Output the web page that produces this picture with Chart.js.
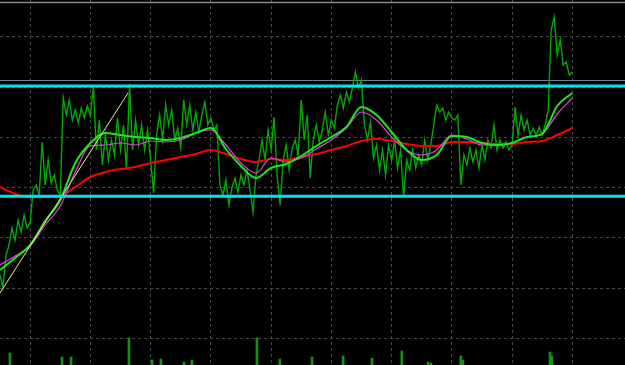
<!DOCTYPE html>
<html><head><meta charset="utf-8">
<script src="https://cdn.jsdelivr.net/npm/chart.js@4.4.1/dist/chart.umd.min.js"></script>
<style>html,body{margin:0;padding:0;background:#000;overflow:hidden}#wrap{width:625px;height:365px;position:relative}</style>
</head><body><div id="wrap"><canvas id="c"></canvas></div>
<script>
// price closes, one per bar (points)
const price = [
 1063,1051,1083,1093,1110,1098,1118,1106,1123,1110,
 1116,1148,1153,1143,1196,1153,1178,1155,1163,1148,
 1143,1240,1223,1238,1218,1228,1215,1230,1220,1232,
 1222,1251,1188,1218,1173,1203,1178,1198,1183,1220,
 1188,1213,1168,1254,1188,1218,1193,1213,1188,1208,
 1178,1145,1203,1223,1198,1233,1213,1228,1198,1210,
 1190,1238,1213,1233,1208,1226,1206,1223,1236,1213,
 1220,1208,1213,1153,1143,1158,1133,1150,1160,1146,
 1163,1153,1168,1148,1126,1163,1178,1198,1178,1208,
 1188,1221,1163,1133,1178,1193,1168,1190,1198,1183,
 1238,1198,1223,1160,1198,1213,1196,1208,1226,1203,
 1218,1210,1233,1243,1230,1246,1236,1250,1266,1250,
 1258,1213,1198,1216,1180,1193,1168,1188,1163,1193,
 1178,1198,1170,1188,1141,1178,1168,1188,1170,1183,
 1173,1198,1178,1193,1213,1233,1226,1230,1218,1226,
 1220,1218,1223,1153,1183,1173,1190,1176,1188,1170,
 1193,1178,1198,1190,1213,1188,1198,1190,1196,1188,
 1193,1231,1203,1223,1208,1218,1203,1210,1202,1211,
 1203,1213,1228,1308,1321,1283,1298,1273,1276,1263,
 1266];
// moving averages, read every 5 bars
const maIndex = [0,5,10,15,20,25,30,35,40,45,50,55,60,65,70,75,80,85,90,95,100,105,110,115,120,125,130,135,140,145,150,155,160,165,170,175,180,185,190];
const maFast = [1068,1080,1093,1117,1138,1175,1195,1205,1203,1201,1200,1198,1200,1205,1210,1189,1172,1160,1170,1174,1182,1192,1201,1211,1231,1223,1206,1188,1178,1183,1202,1201,1195,1193,1195,1201,1204,1232,1245];
const maMid = [1073,1082,1092,1113,1132,1166,1192,1193,1195,1193,1197,1196,1198,1205,1208,1193,1175,1165,1180,1176,1180,1189,1198,1210,1226,1218,1201,1188,1183,1188,1203,1199,1193,1193,1195,1201,1204,1224,1240];
const maSlow = [1151,1144,1141,1141,1142,1151,1161,1166,1169,1171,1175,1178,1181,1184,1188,1184,1179,1176,1179,1178,1181,1184,1188,1192,1197,1199,1197,1194,1192,1192,1196,1196,1195,1194,1194,1196,1197,1203,1210];
// volume spikes
const volIndex = [3.3,20.6,23.6,42.8,50.5,53.4,61.1,63.7,85.3,92.9,103.6,113.9,123.5,133.4,142.1,143.1,153.0,153.7,182.6,183.2];
const volume = [12,8,8,27,5,6,3,5,27,6,8,9,7,14,3,2,9,5,13,9];
// trend line (bar, price)
const trendIdx = [0,42.5];
const trendVal = [1045,1245];
// horizontal levels
const cyanLevels = [1252,1141.8];
const grayLevels = [1257.5,1335.5];
// grid ticks
const gridX = [10,30,50,70,90,110,130,150,170,190];
const gridY = [1000,1050,1101,1151,1201,1251,1301.5];
const xMin = 0, xMax = 207.5, yMin = 973, yMax = 1338, volMax = 365;

const pts = (xs, ys) => xs.map((x, i) => ({x, y: ys[i]}));
const hline = v => [{x: xMin, y: v}, {x: xMax, y: v}];
const lineBase = {type: 'line', pointRadius: 0, fill: false, tension: 0, yAxisID: 'y', xAxisID: 'x'};

const datasets = [];
cyanLevels.forEach(v => datasets.push({...lineBase, data: hline(v), borderColor: '#00e2f2', borderWidth: 3, order: 0}));
datasets.push({...lineBase, data: pts(trendIdx, trendVal), borderColor: '#ecec8e', borderWidth: 1, order: 1});
datasets.push({...lineBase, data: pts(maIndex, maFast), borderColor: '#1ee61e', borderWidth: 2, cubicInterpolationMode: 'monotone', order: 2});
datasets.push({...lineBase, data: pts(maIndex, maMid), borderColor: '#e040e0', borderWidth: 1.2, cubicInterpolationMode: 'monotone', order: 3});
datasets.push({...lineBase, data: pts(maIndex, maSlow), borderColor: '#ff0000', borderWidth: 2, cubicInterpolationMode: 'monotone', order: 4});
datasets.push({...lineBase, data: price.map((v, i) => ({x: i, y: v})), borderColor: '#00aa00', borderWidth: 1.4, order: 5});
datasets.push({type: 'bar', data: pts(volIndex, volume), backgroundColor: '#139313', barThickness: 2, yAxisID: 'yv', xAxisID: 'x', order: 6});
datasets.push({...lineBase, data: hline(grayLevels[0]), borderColor: '#76838f', borderWidth: 1, order: 7});
datasets.push({...lineBase, data: hline(grayLevels[1]), borderColor: '#8a8a8a', borderWidth: 1.5, order: 7});

const gridOpts = {color: '#474747', lineWidth: 1, drawTicks: false, tickBorderDash: [3,3]};
new Chart(document.getElementById('c'), {
  type: 'line',
  data: {datasets},
  options: {
    responsive: true, maintainAspectRatio: false, animation: false,
    layout: {padding: 0},
    plugins: {legend: {display: false}, tooltip: {enabled: false}},
    scales: {
      x: {type: 'linear', min: xMin, max: xMax, offset: false,
          grid: {...gridOpts, offset: false}, border: {display: false, dash: [3,3]},
          ticks: {display: false},
          afterBuildTicks: s => { s.ticks = gridX.map(v => ({value: v})); }},
      y: {type: 'linear', min: yMin, max: yMax,
          grid: gridOpts, border: {display: false, dash: [3,3]},
          ticks: {display: false},
          afterBuildTicks: s => { s.ticks = gridY.map(v => ({value: v})); }},
      yv: {type: 'linear', display: false, min: 0, max: volMax}
    }
  }
});
</script></body></html>
